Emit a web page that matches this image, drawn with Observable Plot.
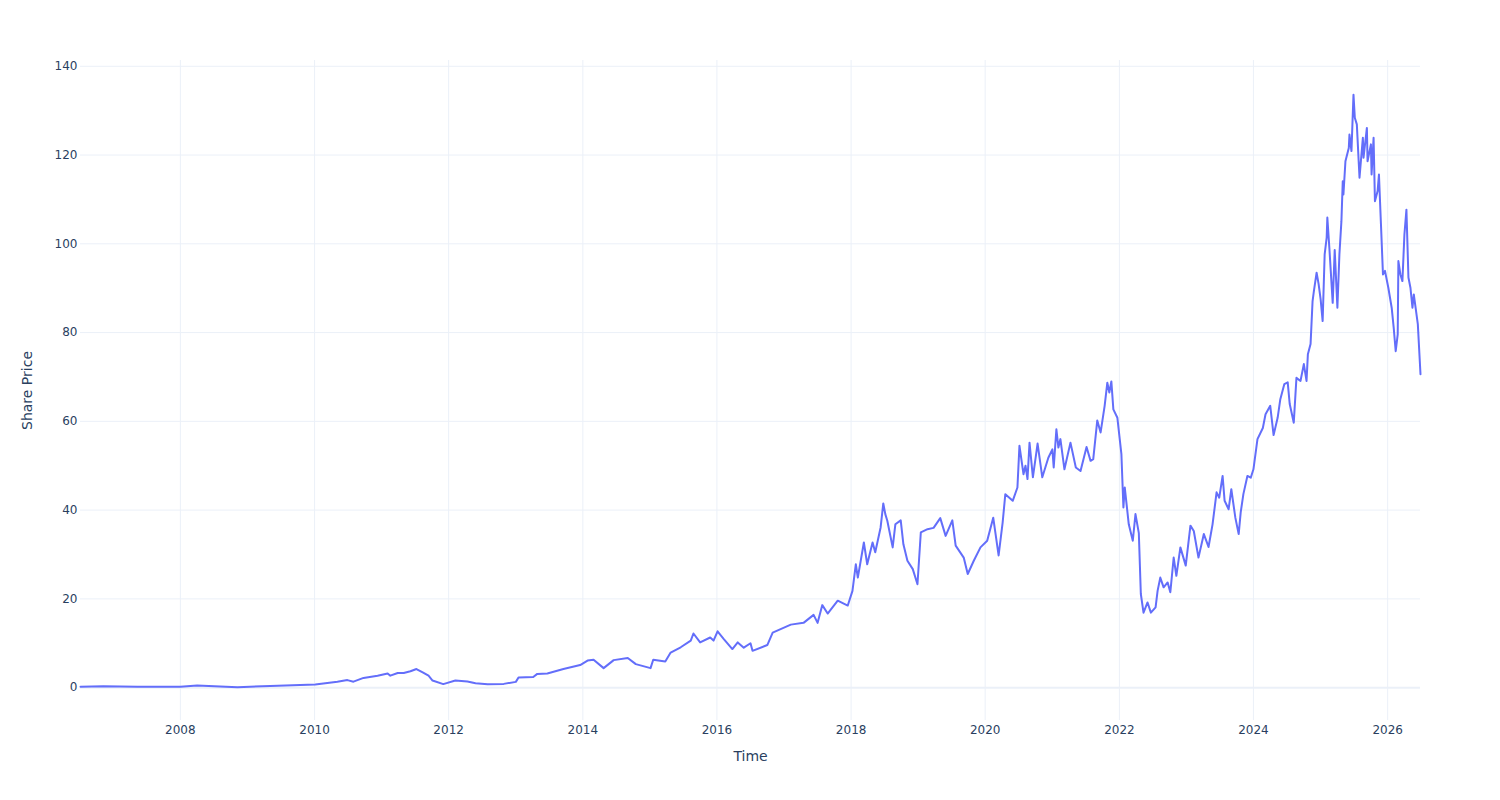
<!DOCTYPE html>
<html>
<head>
<meta charset="utf-8">
<script src="https://cdn.jsdelivr.net/npm/d3@7"></script>
<script src="https://cdn.jsdelivr.net/npm/@observablehq/plot@0.6"></script>
<style>
  html, body { margin: 0; padding: 0; background: #ffffff; }
  #chart svg { display: block; }
</style>
</head>
<body>
<div id="chart"></div>
<script>
// Time (decimal years)
const years = [
  2006.51, 2006.85, 2007.36, 2008.00, 2008.25, 2008.85, 2009.34, 2010.01, 2010.34, 2010.49,
  2010.58, 2010.73, 2010.94, 2011.09, 2011.13, 2011.24, 2011.33, 2011.43, 2011.52, 2011.62,
  2011.70, 2011.76, 2011.92, 2012.10, 2012.28, 2012.40, 2012.58, 2012.82, 2013.00, 2013.04,
  2013.26, 2013.32, 2013.47, 2013.71, 2013.96, 2014.07, 2014.16, 2014.31, 2014.46, 2014.67,
  2014.79, 2015.01, 2015.05, 2015.23, 2015.31, 2015.46, 2015.61, 2015.65, 2015.75, 2015.90,
  2015.95, 2016.01, 2016.10, 2016.23, 2016.31, 2016.40, 2016.50, 2016.53, 2016.75, 2016.83,
  2017.10, 2017.29, 2017.44, 2017.50, 2017.57, 2017.65, 2017.80, 2017.95, 2018.02, 2018.07,
  2018.10, 2018.19, 2018.24, 2018.32, 2018.36, 2018.44, 2018.48, 2018.51, 2018.54, 2018.62,
  2018.66, 2018.74, 2018.78, 2018.84, 2018.92, 2018.99, 2019.04, 2019.14, 2019.23, 2019.33,
  2019.41, 2019.51, 2019.56, 2019.68, 2019.74, 2019.83, 2019.93, 2020.03, 2020.12, 2020.20,
  2020.26, 2020.30, 2020.41, 2020.48, 2020.51, 2020.57, 2020.60, 2020.63, 2020.66, 2020.71,
  2020.78, 2020.85, 2020.94, 2021.00, 2021.02, 2021.06, 2021.09, 2021.12, 2021.18, 2021.27,
  2021.35, 2021.42, 2021.51, 2021.57, 2021.61, 2021.67, 2021.72, 2021.78, 2021.82, 2021.85,
  2021.88, 2021.91, 2021.97, 2022.03, 2022.06, 2022.08, 2022.14, 2022.20, 2022.24, 2022.29,
  2022.32, 2022.36, 2022.42, 2022.47, 2022.54, 2022.57, 2022.61, 2022.66, 2022.72, 2022.76,
  2022.81, 2022.85, 2022.91, 2022.99, 2023.06, 2023.11, 2023.18, 2023.26, 2023.33, 2023.39,
  2023.45, 2023.49, 2023.54, 2023.57, 2023.63, 2023.67, 2023.73, 2023.78, 2023.81, 2023.85,
  2023.91, 2023.96, 2024.00, 2024.06, 2024.14, 2024.18, 2024.25, 2024.30, 2024.36, 2024.40,
  2024.46, 2024.51, 2024.54, 2024.60, 2024.64, 2024.70, 2024.75, 2024.79, 2024.81, 2024.85,
  2024.88, 2024.90, 2024.94, 2024.97, 2025.00, 2025.03, 2025.06, 2025.09, 2025.10, 2025.13,
  2025.18, 2025.21, 2025.25, 2025.28, 2025.31, 2025.33, 2025.34, 2025.37, 2025.42, 2025.43,
  2025.46, 2025.49, 2025.51, 2025.54, 2025.57, 2025.58, 2025.63, 2025.64, 2025.69, 2025.70,
  2025.75, 2025.76, 2025.79, 2025.81, 2025.85, 2025.87, 2025.90, 2025.93, 2025.96, 2026.01,
  2026.06, 2026.09, 2026.12, 2026.15, 2026.16, 2026.19, 2026.22, 2026.25, 2026.28, 2026.31,
  2026.34, 2026.37, 2026.39, 2026.45, 2026.49
];

// Share price values
const prices = [
  0.2, 0.3, 0.2, 0.2, 0.5, 0.1, 0.4, 0.7, 1.35, 1.7,
  1.35, 2.2, 2.7, 3.2, 2.7, 3.3, 3.3, 3.7, 4.2, 3.4,
  2.7, 1.6, 0.8, 1.6, 1.4, 1.0, 0.75, 0.85, 1.3, 2.3,
  2.4, 3.1, 3.2, 4.2, 5.1, 6.1, 6.3, 4.4, 6.2, 6.7,
  5.3, 4.4, 6.3, 5.9, 7.9, 9.1, 10.6, 12.2, 10.2, 11.3,
  10.6, 12.7, 11.0, 8.7, 10.2, 9.0, 10.0, 8.3, 9.6, 12.4,
  14.2, 14.6, 16.4, 14.6, 18.6, 16.7, 19.6, 18.5, 21.8, 27.8,
  24.8, 32.7, 27.8, 32.7, 30.5, 36.1, 41.5, 39.1, 37.6, 31.6,
  36.8, 37.7, 32.3, 28.6, 26.7, 23.3, 35.0, 35.7, 36.0, 38.2,
  34.2, 37.7, 32.0, 29.3, 25.6, 28.6, 31.6, 33.1, 38.3, 29.8,
  37.2, 43.6, 42.1, 45.1, 54.5, 48.1, 50.0, 47.0, 55.2, 47.4,
  55.0, 47.4, 51.8, 53.7, 49.6, 58.2, 54.1, 56.0, 49.2, 55.2,
  49.6, 48.8, 54.2, 51.1, 51.5, 60.2, 57.5, 63.5, 68.7, 66.5,
  69.0, 62.7, 60.8, 52.6, 40.6, 45.1, 36.8, 33.1, 39.1, 34.8,
  21.1, 16.9, 19.2, 16.9, 18.1, 21.8, 24.8, 22.6, 23.7, 21.5,
  29.3, 25.2, 31.6, 27.5, 36.5, 35.3, 29.3, 34.6, 31.7, 36.8,
  44.0, 42.8, 47.7, 42.1, 40.2, 44.7, 38.3, 34.6, 39.5, 43.6,
  47.7, 47.3, 49.2, 56.0, 58.5, 61.6, 63.5, 56.9, 60.8, 65.0,
  68.4, 68.8, 63.9, 59.7, 69.8, 69.1, 72.9, 69.1, 75.1, 77.4,
  87.1, 89.4, 93.5, 90.9, 87.5, 82.6, 97.6, 101.4, 105.9, 99.1,
  86.7, 98.6, 85.6, 97.6, 105.1, 114.1, 111.1, 118.6, 121.6, 124.6,
  120.9, 133.6, 128.4, 126.9, 117.9, 114.9, 123.9, 119.4, 126.1, 118.6,
  122.4, 115.6, 123.9, 109.6, 111.9, 115.6, 104.4, 93.1, 93.9, 90.1,
  85.6, 81.1, 75.8, 79.6, 96.1, 93.1, 91.6, 102.1, 107.7, 92.4,
  90.1, 85.6, 88.6, 81.9, 70.6
];

const xTickYears = [2008, 2010, 2012, 2014, 2016, 2018, 2020, 2022, 2024, 2026];
const yTicks = [0, 20, 40, 60, 80, 100, 120, 140];
const xTitle = "Time";
const yTitle = "Share Price";

function toDate(t) {
  const y = Math.floor(t);
  const s = Date.UTC(y, 0, 1), e = Date.UTC(y + 1, 0, 1);
  return new Date(s + (t - y) * (e - s));
}

const data = years.map((t, i) => ({date: toDate(t), price: prices[i]}));
const xTickDates = xTickYears.map(y => new Date(Date.UTC(y, 0, 1)));

const ink = "#2a3f5f";
const grid = "#EBF0F8";

const chart = Plot.plot({
  width: 1500,
  height: 800,
  marginLeft: 80,
  marginRight: 80,
  marginTop: 60,
  marginBottom: 80,
  style: {fontFamily: "DejaVu Sans, Verdana, sans-serif", fontSize: "12px", color: ink, background: "#ffffff"},
  x: {
    type: "utc",
    domain: d3.extent(data, d => d.date),
    ticks: xTickDates,
    tickFormat: d => String(d.getUTCFullYear()),
    tickSize: 0,
    tickPadding: 5,
    label: null
  },
  y: {
    domain: [-7.4, 141.3],
    ticks: yTicks,
    tickSize: 0,
    tickPadding: 3,
    label: null
  },
  marks: [
    Plot.ruleX(xTickDates, {stroke: grid, strokeWidth: 1}),
    Plot.ruleY(yTicks.filter(v => v !== 0), {stroke: grid, strokeWidth: 1}),
    Plot.ruleY([0], {stroke: grid, strokeWidth: 2}),
    Plot.lineY(data, {x: "date", y: "price", stroke: "#636efa", strokeWidth: 2}),
    Plot.text([xTitle], {text: d => d, frameAnchor: "bottom", dy: 36, lineAnchor: "middle", textAnchor: "middle", fontSize: 14, fill: ink}),
    Plot.text([yTitle], {text: d => d, frameAnchor: "left", dx: -53, rotate: -90, lineAnchor: "middle", textAnchor: "middle", fontSize: 14, fill: ink})
  ]
});

document.getElementById("chart").appendChild(chart);
</script>
</body>
</html>
